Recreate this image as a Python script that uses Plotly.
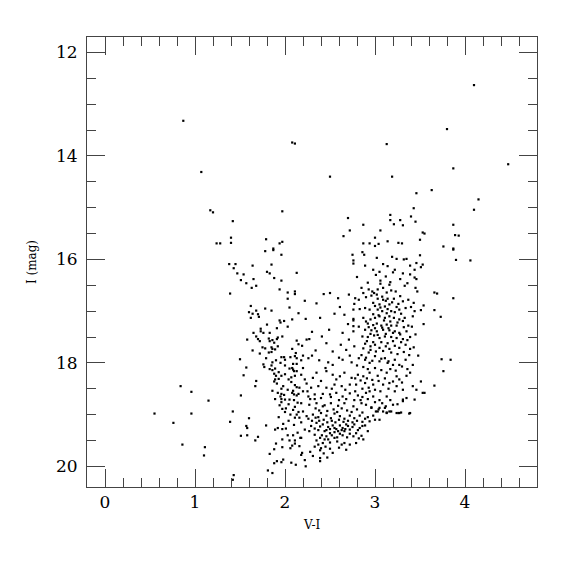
import plotly.graph_objects as go

vi_bright = [0.87, 1.07, 1.17, 1.20, 1.42, 1.24, 1.28, 1.40, 1.40, 1.79, 1.94, 1.97, 1.97, 1.87,
             2.08, 2.11, 2.50, 2.65, 2.70, 2.72, 2.87, 2.87, 2.94, 3.00, 3.00, 3.04, 3.06, 3.13,
             3.14, 3.17, 3.17, 3.21, 3.19, 3.26, 3.30, 3.28, 3.31, 3.40, 3.45, 3.43, 3.46, 3.50,
             3.53, 3.55, 3.63, 3.76, 3.80, 3.87, 3.87, 3.89, 3.93, 3.87, 4.10, 4.10, 4.15, 4.48]
i_bright = [13.32, 14.31, 15.05, 15.09, 15.26, 15.69, 15.69, 15.58, 15.68, 15.61, 15.69, 15.66, 15.07, 15.79,
            13.74, 13.76, 14.40, 15.55, 15.20, 15.44, 15.33, 15.69, 15.69, 15.58, 15.74, 15.70, 15.44, 13.77,
            15.65, 15.14, 15.24, 15.32, 14.40, 15.68, 15.69, 15.24, 15.34, 15.17, 15.27, 15.01, 14.72, 15.62,
            15.48, 15.50, 14.66, 15.75, 13.48, 14.24, 15.33, 15.53, 15.54, 15.79, 12.63, 15.04, 14.84, 14.16]

vi_blue = [0.84, 0.96, 0.55, 0.96, 0.76, 0.86, 1.15, 1.11, 1.10, 1.43, 1.42,
           1.54, 1.68, 1.67, 1.51, 1.42, 1.39, 1.60, 1.57, 1.58, 1.51, 1.58, 1.70, 1.67, 1.79]
i_blue = [18.45, 18.56, 18.98, 18.98, 19.16, 19.58, 18.73, 19.63, 19.79, 20.17, 20.26,
          18.24, 18.35, 18.45, 18.63, 18.94, 19.14, 19.07, 19.22, 19.26, 19.41, 19.40, 19.43, 19.50, 19.21]

vi_mid_low = [1.86, 1.88, 1.90, 1.96, 1.89, 1.88, 1.93, 2.04, 2.07, 2.11, 2.10, 2.13, 2.09, 2.11, 2.13, 2.16,
              1.86, 1.96, 1.96, 1.95, 1.89, 1.96, 2.00, 2.05, 2.10, 2.14, 1.96, 2.09, 2.10, 2.13, 1.97, 2.01,
              2.09, 2.11, 2.13, 2.11, 2.16, 1.93, 1.89, 2.01, 1.92, 1.97, 2.09, 2.05, 2.11, 2.11, 2.17, 2.06,
              1.97, 1.88, 1.90, 1.83, 1.88, 1.91, 1.96, 1.98, 2.07, 2.12, 1.81, 1.86,
              1.93, 2.00, 2.07, 1.91, 1.98, 2.03, 2.08, 2.15, 1.92, 1.99, 2.04, 1.94, 2.00, 2.06, 2.15, 2.18,
              2.04, 1.98, 2.10, 2.14, 2.03, 1.97, 2.08, 2.18, 1.85, 1.90, 2.00, 2.18, 2.20, 1.78, 1.82]
i_mid_low = [18.14, 18.21, 18.25, 18.25, 18.32, 18.36, 18.31, 18.32, 18.37, 18.25, 18.16, 18.16, 18.13, 18.43, 18.47, 18.48,
             18.54, 18.50, 18.60, 18.65, 18.70, 18.70, 18.71, 18.71, 18.72, 18.77, 18.76, 18.54, 18.61, 18.63, 18.89, 18.88,
             18.91, 18.85, 19.00, 19.06, 19.06, 19.05, 19.29, 19.27, 19.26, 19.28, 19.40, 19.50, 19.50, 19.56, 19.45, 19.65,
             19.63, 19.67, 19.56, 19.76, 19.94, 19.90, 19.92, 19.87, 19.93, 19.97, 20.08, 20.13,
             18.18, 18.22, 18.28, 18.40, 18.45, 18.52, 18.58, 18.60, 18.58, 18.62, 18.80, 18.82, 18.95, 19.00, 18.95, 19.15,
             19.12, 19.18, 19.20, 19.35, 19.40, 19.48, 19.60, 19.78, 18.05, 17.95, 18.05, 17.95, 18.10, 17.72, 17.80]

vi_mid_up = [1.78, 1.87, 1.96, 1.38, 1.45, 1.43, 1.64, 1.85, 1.47, 1.54, 1.80, 1.83, 2.13, 1.51, 1.57, 1.65,
             1.88, 1.96, 1.63, 1.68, 1.39, 1.94, 2.03, 2.11, 2.11, 2.03, 1.62, 1.78, 1.85, 2.05, 1.68, 1.60,
             1.64, 1.70, 1.71, 1.62, 2.15, 1.94, 1.95, 1.99, 2.08, 1.80, 2.03, 1.91, 1.73, 1.73, 1.65, 1.76,
             1.83, 1.68, 1.70, 1.58, 1.72, 1.92, 1.91, 1.97, 1.82, 1.83, 1.86, 1.88, 2.13, 2.15, 1.75, 1.85,
             1.86, 1.92, 1.89, 1.64, 2.08, 2.12, 1.85, 1.72, 1.50, 1.79, 1.96, 1.99, 2.06, 2.11, 2.13, 2.00,
             1.86, 1.76, 1.77, 1.57, 1.83, 1.89, 1.95, 2.05, 2.08, 2.09, 2.13]
i_mid_up = [15.84, 15.82, 15.91, 16.09, 16.09, 16.17, 16.12, 16.10, 16.27, 16.29, 16.24, 16.27, 16.26, 16.40, 16.46, 16.38,
            16.36, 16.41, 16.55, 16.51, 16.66, 16.58, 16.64, 16.62, 16.67, 16.76, 16.90, 16.95, 16.99, 16.93, 16.99, 17.02,
            17.05, 17.06, 17.11, 17.13, 17.04, 17.18, 17.22, 17.19, 17.16, 17.26, 17.30, 17.33, 17.34, 17.39, 17.42, 17.42,
            17.42, 17.49, 17.54, 17.55, 17.58, 17.51, 17.54, 17.49, 17.53, 17.58, 17.56, 17.61, 17.57, 17.64, 17.70, 17.70,
            17.73, 17.68, 17.74, 17.76, 17.73, 17.81, 17.79, 17.82, 17.93, 17.91, 17.89, 17.89, 17.89, 17.87, 17.91, 17.94,
            17.99, 18.03, 18.08, 18.09, 18.12, 18.11, 18.00, 18.11, 18.10, 18.02, 18.02]

vi_rgb = [2.75, 2.76, 2.76, 2.86, 2.88, 2.89, 3.02, 3.09, 3.14, 3.19, 3.24, 3.32, 3.35, 3.39, 3.46, 3.44,
          3.22, 3.31, 3.39, 3.01, 3.06, 3.06, 3.17, 3.16, 3.33, 3.46, 2.22, 2.35, 2.43, 2.50, 2.59, 2.71,
          2.78, 2.77, 2.82, 2.87, 2.93, 2.90, 2.96, 2.99, 3.03, 3.09, 3.13, 3.18, 3.23, 3.28, 3.31, 3.37,
          3.43, 3.21, 3.14, 3.09, 3.03, 2.98, 3.05, 3.11, 3.16, 3.24, 3.27, 3.34, 3.44, 3.03, 3.08, 3.13,
          3.18, 2.94, 2.89, 2.83, 2.76, 2.61, 2.66, 2.76, 2.76, 2.87, 2.90, 2.95, 3.00, 3.05, 3.11, 3.16,
          3.21, 3.27, 3.33, 3.42, 2.92, 2.98, 3.02, 3.07, 3.13, 3.18, 3.24, 3.32, 3.37, 2.89, 2.96, 3.02,
          3.09, 3.16, 3.22, 3.27, 3.35, 2.39, 2.23, 2.41, 2.49, 2.64, 2.76, 2.76, 2.71, 2.86, 2.92, 2.99,
          3.05, 3.11, 3.18, 3.24, 3.31, 3.39, 3.45, 2.24, 2.27, 2.19, 2.34, 2.53, 2.62, 2.77, 2.89, 2.95,
          2.95, 3.00, 3.05, 3.12, 3.16, 3.22, 3.27, 3.34, 3.39, 2.20, 2.26, 2.30, 2.48, 2.53, 2.64, 2.72,
          2.74, 2.82, 2.89, 2.94, 3.00, 3.05, 3.11, 3.14, 3.22, 3.27, 3.34, 3.42, 3.48,
          2.97, 3.02, 3.08, 3.12, 3.19, 3.26, 3.00, 3.06, 3.14, 3.22, 3.29, 2.98, 3.04, 3.10, 3.17, 3.25,
          3.31, 2.93, 3.00, 3.08, 3.15, 3.20, 3.28, 2.95, 3.03, 3.12, 3.36, 2.91, 2.98, 3.07, 3.14, 3.20,
          3.29, 2.87, 2.93, 3.01, 3.09, 3.18, 3.25, 3.32, 2.85, 2.90, 2.97, 3.07, 3.15, 3.20, 3.30, 2.80,
          2.87, 2.92, 3.00, 3.07, 3.17, 3.23, 3.36, 2.78, 2.84, 2.91, 2.97, 3.04, 3.11, 3.20, 3.30, 2.86,
          2.93, 3.00, 3.06, 3.15, 3.22, 2.84, 2.92, 3.00, 3.08, 3.17, 3.25, 2.96, 3.04, 3.12, 3.41, 3.43,
          3.40, 3.45, 3.44, 3.47, 3.36, 3.28, 3.20, 3.12, 3.05, 2.98, 2.92, 2.85, 2.80, 3.38, 3.35, 3.42,
          2.82, 2.70, 2.55, 2.46, 2.60, 2.68, 2.30, 2.38, 2.45]
i_rgb = [15.91, 16.02, 16.08, 15.86, 15.91, 16.12, 15.97, 16.09, 16.13, 15.95, 15.99, 16.00, 15.99, 16.12, 16.07, 16.20,
         16.20, 16.27, 16.29, 16.30, 16.41, 16.47, 16.44, 16.49, 16.51, 16.38, 16.80, 16.85, 16.67, 16.65, 16.75, 16.68,
         16.75, 16.86, 16.78, 16.65, 16.58, 16.73, 16.70, 16.65, 16.58, 16.55, 16.64, 16.60, 16.62, 16.71, 16.81, 16.78,
         16.84, 16.76, 16.76, 16.78, 16.76, 16.84, 16.87, 16.91, 16.87, 16.92, 16.97, 16.94, 17.00, 16.97, 17.00, 17.04,
         17.00, 16.97, 16.94, 16.96, 16.97, 16.92, 17.07, 17.15, 17.18, 17.13, 17.20, 17.16, 17.13, 17.10, 17.13, 17.10,
         17.13, 17.16, 17.13, 17.10, 17.24, 17.27, 17.24, 17.28, 17.26, 17.28, 17.28, 17.31, 17.28, 17.36, 17.37, 17.39,
         17.36, 17.37, 17.39, 17.42, 17.39, 17.13, 17.15, 17.49, 17.36, 17.42, 17.39, 17.29, 17.55, 17.49, 17.50, 17.47,
         17.52, 17.49, 17.50, 17.52, 17.54, 17.50, 17.45, 17.55, 17.54, 17.67, 17.76, 17.78, 17.65, 17.68, 17.63, 17.68,
         17.75, 17.65, 17.71, 17.68, 17.73, 17.67, 17.71, 17.65, 17.73, 17.86, 17.91, 17.86, 17.99, 18.04, 17.94, 17.86,
         17.99, 17.91, 17.94, 18.00, 17.87, 17.97, 17.91, 18.00, 17.94, 18.04, 17.94, 18.04, 17.86,
         16.62, 16.68, 16.72, 16.80, 16.83, 16.86, 16.90, 16.93, 16.96, 17.02, 17.05, 17.06, 17.08, 17.18, 17.20, 17.22,
         17.19, 17.31, 17.33, 17.32, 17.33, 17.42, 17.45, 17.44, 17.46, 17.44, 17.56, 17.58, 17.60, 17.60, 17.62, 17.58,
         17.60, 17.72, 17.80, 17.78, 17.77, 17.80, 17.83, 17.79, 17.85, 17.90, 17.96, 17.92, 17.97, 18.04, 18.07, 18.05,
         18.08, 18.12, 18.10, 18.14, 18.12, 18.15, 18.12, 18.30, 18.34, 18.30, 18.33, 18.35, 18.30, 18.36, 18.38, 18.50,
         18.48, 18.52, 18.55, 18.50, 18.55, 18.72, 18.70, 18.76, 18.78, 18.72, 18.80, 18.86, 18.90, 18.84, 17.30, 17.70,
         16.92, 16.55, 16.35, 16.62, 16.46, 16.38, 16.25, 16.33, 16.24, 16.20, 16.45, 16.55, 16.34, 17.85, 18.25, 18.45,
         17.30, 17.25, 17.05, 17.62, 17.90, 17.75, 17.40, 17.95, 18.10]

vi_mso = [2.18, 2.22, 2.31, 2.35, 2.46, 2.53, 2.57, 2.61, 2.66, 2.74, 2.81, 2.87, 2.94, 3.03, 3.13, 3.24,
          3.27, 3.39, 3.16, 3.09, 2.98, 2.89, 2.79, 2.72, 2.63, 2.55, 2.46, 2.37, 2.29, 2.20, 2.26, 2.33,
          2.40, 2.50, 2.57, 2.64, 2.72, 2.81, 2.90, 2.98, 3.05, 3.13, 3.31, 3.35, 3.44, 2.18, 2.27, 2.35,
          2.42, 2.51, 2.59, 2.66, 2.76, 2.85, 2.90, 2.96, 3.03, 3.13, 3.18, 3.24, 3.39, 2.20, 2.24, 2.31,
          2.37, 2.40, 2.46, 2.51, 2.55, 2.61, 2.66, 2.72, 2.77, 2.83, 2.89, 2.94, 3.00, 2.35, 2.39, 2.42,
          2.48, 2.53, 2.57, 2.61, 2.64, 2.68, 2.72, 2.77, 2.83, 2.89, 2.92, 2.44, 2.50, 2.55, 2.61, 2.66,
          2.72, 2.79, 2.85, 2.22, 2.27, 2.33, 2.39, 2.44, 2.50, 2.55, 2.63, 2.72, 2.79, 2.87, 2.18, 2.16,
          2.37, 2.40, 2.39, 2.53, 2.19, 2.22, 2.23, 2.39, 2.39, 3.01, 3.05, 3.11, 3.27, 3.46, 3.31, 3.24,
          3.31, 3.38, 3.26, 3.29, 3.16, 3.13, 3.09, 3.20, 3.05,
          2.28, 2.34, 2.38, 2.44, 2.47, 2.54, 2.58, 2.63, 2.69, 2.74, 2.80, 2.86, 2.26, 2.30, 2.34, 2.38,
          2.43, 2.47, 2.52, 2.56, 2.60, 2.65, 2.70, 2.75, 2.80, 2.86, 2.92, 2.98, 2.29, 2.33, 2.37, 2.46,
          2.50, 2.55, 2.59, 2.63, 2.67, 2.70, 2.75, 2.81, 2.86, 2.41, 2.46, 2.52, 2.58, 2.64, 2.69, 2.76,
          2.82, 2.35, 2.42, 2.48, 2.58, 2.66, 2.33, 2.45, 2.50, 2.60, 2.28, 2.43, 2.47, 2.31, 2.68, 2.25,
          2.33, 2.42, 2.51, 2.60, 2.68, 2.77, 2.86, 2.94, 2.24, 2.40, 2.52, 2.67, 2.78]
i_mso = [18.23, 18.32, 18.29, 18.19, 18.16, 18.23, 18.32, 18.26, 18.19, 18.29, 18.23, 18.26, 18.19, 18.25, 18.19, 18.26,
         18.32, 18.19, 18.39, 18.42, 18.42, 18.39, 18.42, 18.42, 18.45, 18.42, 18.48, 18.45, 18.48, 18.55, 18.65, 18.61,
         18.68, 18.61, 18.58, 18.65, 18.59, 18.63, 18.58, 18.65, 18.72, 18.65, 18.71, 18.68, 18.71, 18.78, 18.81, 18.78,
         18.84, 18.78, 18.83, 18.78, 18.84, 18.78, 18.81, 18.87, 18.94, 18.96, 18.94, 18.97, 18.97, 18.94, 19.03, 19.00,
         19.05, 18.97, 19.02, 19.07, 18.98, 19.03, 19.08, 19.02, 19.07, 19.02, 19.08, 19.13, 19.10, 19.16, 19.23, 19.19,
         19.24, 19.21, 19.28, 19.21, 19.26, 19.19, 19.29, 19.19, 19.26, 19.21, 19.32, 19.32, 19.36, 19.34, 19.37, 19.32,
         19.37, 19.36, 19.41, 19.29, 19.32, 19.39, 19.45, 19.48, 19.54, 19.45, 19.58, 19.58, 19.55, 19.48, 19.45, 19.61,
         19.58, 19.65, 19.69, 19.74, 19.74, 19.88, 20.00, 19.84, 19.90, 18.94, 19.10, 18.87, 18.97, 18.52, 18.52, 18.45,
         18.74, 18.98, 18.97, 18.96, 18.94, 18.97, 18.94, 18.81, 18.87,
         18.70, 18.88, 18.92, 18.82, 18.93, 18.90, 18.95, 18.88, 18.92, 18.95, 18.90, 18.96, 19.08, 19.12, 19.06, 19.12,
         19.10, 19.15, 19.12, 19.15, 19.10, 19.14, 19.12, 19.15, 19.12, 19.14, 19.05, 19.02, 19.22, 19.27, 19.30, 19.30,
         19.28, 19.26, 19.32, 19.30, 19.28, 19.22, 19.24, 19.30, 19.22, 19.40, 19.42, 19.40, 19.44, 19.40, 19.44, 19.42,
         19.46, 19.50, 19.55, 19.48, 19.52, 19.55, 19.62, 19.62, 19.66, 19.64, 19.72, 19.75, 19.83, 19.80, 19.68, 18.55,
         18.70, 18.60, 18.66, 18.72, 18.70, 18.72, 18.66, 18.55, 18.40, 18.35, 18.50, 18.52, 18.55]

vi_red = [3.87, 3.90, 4.06, 3.51, 3.53, 3.50, 3.66, 3.69, 3.87, 3.51, 3.54, 3.66, 3.73, 3.54, 3.74,
          3.84, 3.76, 3.51, 3.66, 3.53, 3.55]
i_red = [15.81, 16.01, 16.02, 16.15, 16.10, 15.92, 16.64, 16.66, 16.75, 16.98, 16.89, 16.98, 17.11, 17.25, 17.93,
         17.94, 18.16, 18.36, 18.44, 18.58, 18.58]

vi = vi_bright + vi_blue + vi_mid_low + vi_mid_up + vi_rgb + vi_mso + vi_red
imag = i_bright + i_blue + i_mid_low + i_mid_up + i_rgb + i_mso + i_red

x_ticks = [0, 1, 2, 3, 4]
y_ticks = [12, 14, 16, 18, 20]

fig = go.Figure(go.Scatter(
    x=vi, y=imag, mode="markers",
    marker=dict(color="black", size=2.2, symbol="square", line=dict(width=0)),
    hoverinfo="skip", showlegend=False))

axis_common = dict(
    showline=True, linecolor="#444", linewidth=1, mirror="ticks",
    ticks="inside", ticklen=18, tickwidth=1, tickcolor="#444",
    showgrid=False, zeroline=False,
    tickfont=dict(family="DejaVu Serif", size=17, color="black"),
)

fig.update_xaxes(range=[-0.2, 4.8], tickvals=x_ticks, ticktext=[str(v) for v in x_ticks],
                 minor=dict(dtick=0.2, tick0=0, ticks="inside", ticklen=9, tickcolor="#444", showgrid=False),
                 **axis_common)
fig.update_yaxes(range=[20.4, 11.7], tickvals=y_ticks, ticktext=[str(v) for v in y_ticks],
                 ticklabelstandoff=5,
                 minor=dict(dtick=0.5, tick0=0, ticks="inside", ticklen=9, tickcolor="#444", showgrid=False),
                 **axis_common)

fig.update_layout(
    width=575, height=575,
    margin=dict(l=79, r=46, t=29, b=96, autoexpand=False),
    paper_bgcolor="white", plot_bgcolor="white",
    annotations=[
        dict(text="V-I", xref="paper", yref="paper", x=0.5, y=-0.084, yanchor="middle",
             showarrow=False, font=dict(family="DejaVu Serif", size=12, color="black")),
        dict(text="I (mag)", xref="paper", yref="paper", x=-0.122, y=0.5, textangle=-90,
             xanchor="center", showarrow=False, font=dict(family="DejaVu Serif", size=12, color="black")),
    ],
)

fig.write_html("out.html")
